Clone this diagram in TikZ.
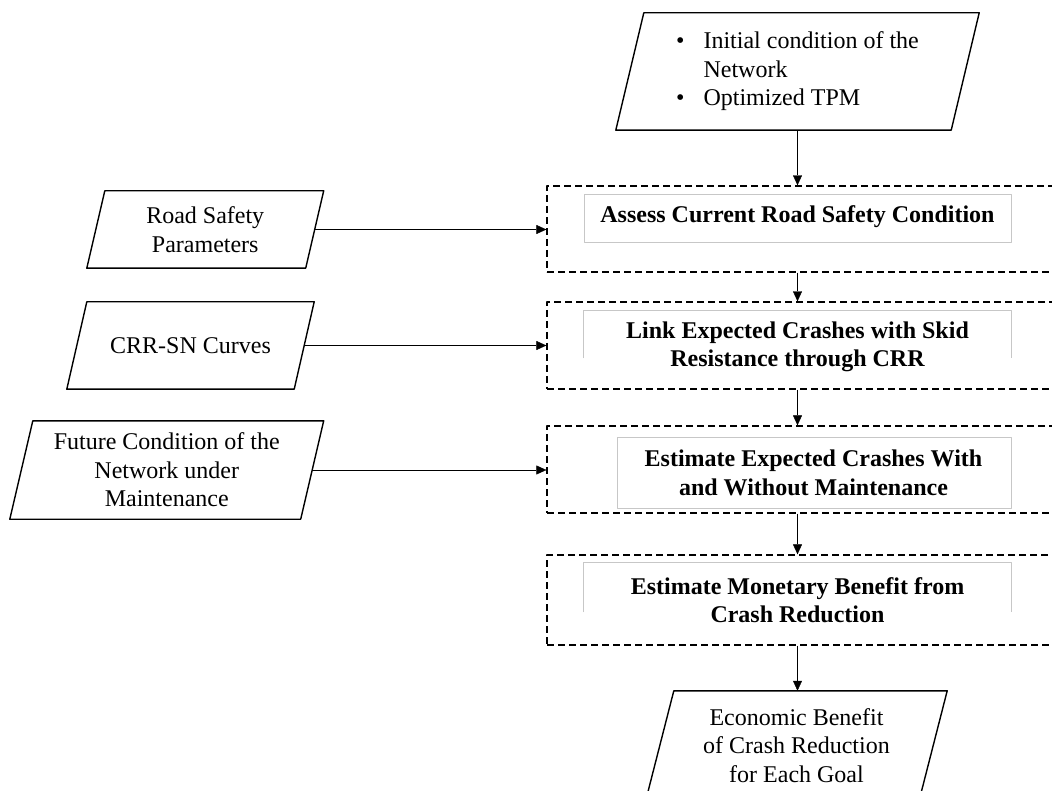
\documentclass[tikz,border=0pt]{standalone}
\usepackage{fontspec}
\setmainfont{Liberation Serif}
\usetikzlibrary{arrows.meta}
\begin{document}
\begin{tikzpicture}[x=1pt, y=-1pt, line join = round, >={Triangle[length=10pt,width=9pt]}]
	\tikzset{txt/.style={font=\fontsize{24}{28.5}\selectfont, align=center, inner sep=0pt},
		stage/.style={draw, dash pattern=on 7pt off 4pt, line width=1.3pt, minimum width=530pt, inner sep=0pt},
		inner/.style={draw=black!22, line width=0.8pt, inner sep=0pt},
		title/.style={txt, font=\fontsize{24}{28.5}\selectfont\bfseries}}
	\useasboundingbox (0,0) rectangle (1052,791);
	\clip (0,0) rectangle (1052,791);
	% inputs
	\node[txt, minimum width=335pt, minimum height=117pt] (init) at (797.5,71.5)
	{\begin{tabular}{@{}l@{\hspace{19pt}}l@{}}\textbullet & Initial condition of the\\ & Network\\ \textbullet & Optimized TPM\end{tabular}};
	\node[txt, minimum width=218.5pt, minimum height=77pt] (rsp) at (205.25,229.5) {Road Safety\\Parameters};
	\node[txt, minimum width=227pt, minimum height=87pt] (crr) at (190.5,345.5) {CRR-SN Curves};
	\node[txt, minimum width=290.5pt, minimum height=98pt] (fut) at (166.75,470) {Future Condition of the\\Network under\\Maintenance};
	\node[txt, minimum width=273pt, minimum height=109pt] (out) at (796.5,745.5) {Economic Benefit\\of Crash Reduction\\for Each Goal};
	\foreach \n/\s in {init/14,rsp/9,crr/10,fut/11.5,out/14}
		\draw[line width=1.4pt] ([xshift=\s]\n.north west) -- ([xshift=\s]\n.north east) -- ([xshift=-\s]\n.south east) -- ([xshift=-\s]\n.south west) -- cycle;
	% stages
	\node[stage, minimum height=86pt] (sA) at (812,229) {};
	\node[stage, minimum height=87pt] (sB) at (812,345.5) {};
	\node[stage, minimum height=87pt] (sC) at (812,469.5) {};
	\node[stage, minimum height=90pt] (sD) at (812,600) {};
	\node[inner, minimum width=427pt, minimum height=48pt] (iA) at (797.5,218) {};
	\node[inner, draw=none, minimum width=427pt, minimum height=47pt] (iB) at (797.5,334.5) {};
	\node[inner, minimum width=394pt, minimum height=71pt] (iC) at (814,472.5) {};
	\node[inner, draw=none, minimum width=427pt, minimum height=49pt] (iD) at (797.5,587.5) {};
	\foreach \n in {iB,iD}
		\draw[inner] (\n.south west) -- (\n.north west) -- (\n.north east) -- (\n.south east);
	\node[title] (tA) at (797.5,217) {Assess Current Road Safety Condition};
	\node[title] (tB) at (797.5,347) {Link Expected Crashes with Skid\\Resistance through CRR};
	\node[title] (tC) at (813.5,473) {Estimate Expected Crashes With\\and Without Maintenance};
	\node[title] (tD) at (797.5,600) {Estimate Monetary Benefit from\\Crash Reduction};
	% connectors
	\draw[->] (init) -- (init |- sA.north);
	\draw[->] (sA.south -| init) -- (sB.north -| init);
	\draw[->] (sB.south -| init) -- (sC.north -| init);
	\draw[->] (sC.south -| init) -- (sD.north -| init);
	\draw[->] (sD.south -| init) -- (init |- out.north);
	\draw[->] (rsp.east) -- (rsp.east -| sA.west);
	\draw[->] (crr.east) -- (crr.east -| sB.west);
	\draw[->] (fut.east) -- (fut.east -| sC.west);
\end{tikzpicture}
\end{document}
